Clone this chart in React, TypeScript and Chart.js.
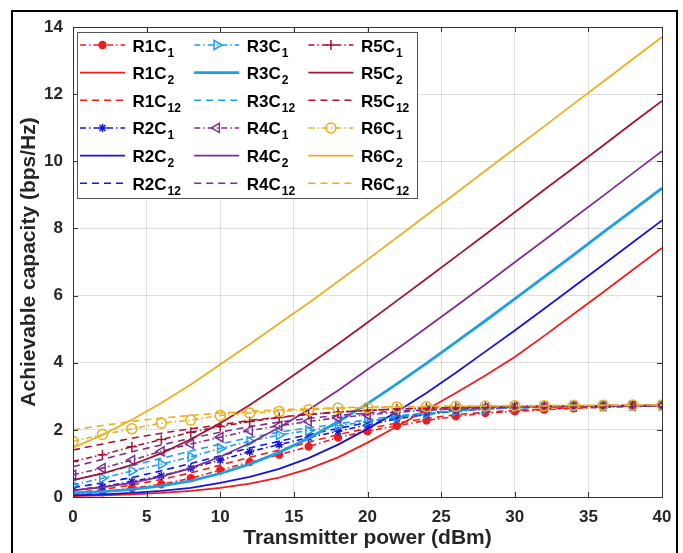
import React, { useEffect, useRef } from 'react';
import { Chart, registerables } from 'chart.js';

Chart.register(...registerables);

const FONT = "'Liberation Sans', Arial, Helvetica, sans-serif";

// ---------------- data ----------------
const powerDbm = [0, 2, 4, 6, 8, 10, 12, 14, 16, 18, 20, 22, 24, 26, 28, 30, 32, 34, 36, 38, 40];
const xTickValues = [0, 5, 10, 15, 20, 25, 30, 35, 40];
const yTickValues = [0, 2, 4, 6, 8, 10, 12, 14];

const r1c1 = [0.06, 0.14, 0.26, 0.38, 0.56, 0.8, 1.04, 1.26, 1.5, 1.77, 1.96, 2.12, 2.28, 2.4, 2.5, 2.55, 2.6, 2.64, 2.67, 2.7, 2.72];
const r1c2 = [0.03, 0.05, 0.08, 0.12, 0.18, 0.27, 0.4, 0.58, 0.84, 1.18, 1.62, 2.1, 2.6, 3.1, 3.62, 4.17, 4.8, 5.45, 6.1, 6.76, 7.42];
const r1c12 = [0.12, 0.22, 0.36, 0.52, 0.72, 0.95, 1.18, 1.4, 1.63, 1.86, 2.04, 2.2, 2.34, 2.45, 2.53, 2.58, 2.62, 2.66, 2.68, 2.7, 2.72];

const r2c1 = [0.2, 0.31, 0.46, 0.63, 0.86, 1.1, 1.35, 1.56, 1.77, 1.96, 2.15, 2.33, 2.46, 2.56, 2.62, 2.66, 2.68, 2.7, 2.71, 2.71, 2.72];
const r2c2 = [0.05, 0.08, 0.12, 0.18, 0.27, 0.42, 0.6, 0.84, 1.16, 1.56, 2.03, 2.54, 3.1, 3.7, 4.33, 4.96, 5.61, 6.26, 6.92, 7.58, 8.24];
const r2c12 = [0.28, 0.42, 0.58, 0.78, 1.0, 1.23, 1.46, 1.66, 1.86, 2.04, 2.22, 2.38, 2.5, 2.58, 2.63, 2.66, 2.68, 2.7, 2.71, 2.72, 2.72];

const r3c1 = [0.36, 0.56, 0.78, 0.98, 1.2, 1.45, 1.66, 1.85, 1.98, 2.12, 2.25, 2.38, 2.48, 2.56, 2.62, 2.66, 2.68, 2.7, 2.71, 2.72, 2.72];
const r3c2 = [0.12, 0.16, 0.23, 0.33, 0.48, 0.7, 0.98, 1.33, 1.75, 2.24, 2.78, 3.37, 3.98, 4.61, 5.25, 5.9, 6.56, 7.21, 7.88, 8.54, 9.2];
const r3c12 = [0.5, 0.7, 0.93, 1.15, 1.37, 1.58, 1.77, 1.93, 2.06, 2.18, 2.3, 2.42, 2.5, 2.57, 2.62, 2.66, 2.68, 2.7, 2.71, 2.72, 2.72];

const r4c1 = [0.66, 0.86, 1.1, 1.36, 1.58, 1.78, 1.98, 2.12, 2.25, 2.36, 2.45, 2.52, 2.58, 2.62, 2.65, 2.68, 2.69, 2.7, 2.71, 2.72, 2.72];
const r4c2 = [0.2, 0.29, 0.42, 0.61, 0.86, 1.2, 1.6, 2.07, 2.6, 3.17, 3.8, 4.41, 5.04, 5.68, 6.33, 6.99, 7.65, 8.31, 8.97, 9.64, 10.3];
const r4c12 = [0.9, 1.12, 1.35, 1.55, 1.75, 1.93, 2.1, 2.23, 2.34, 2.43, 2.5, 2.56, 2.6, 2.64, 2.66, 2.68, 2.7, 2.71, 2.72, 2.72, 2.73];

const r5c1 = [1.06, 1.26, 1.5, 1.71, 1.93, 2.1, 2.25, 2.37, 2.46, 2.53, 2.58, 2.62, 2.65, 2.67, 2.69, 2.7, 2.71, 2.72, 2.72, 2.73, 2.73];
const r5c2 = [0.5, 0.7, 0.96, 1.3, 1.72, 2.2, 2.74, 3.33, 3.94, 4.56, 5.2, 5.85, 6.5, 7.16, 7.82, 8.48, 9.15, 9.81, 10.47, 11.14, 11.8];
const r5c12 = [1.4, 1.58, 1.75, 1.9, 2.03, 2.15, 2.28, 2.38, 2.46, 2.53, 2.58, 2.62, 2.65, 2.67, 2.69, 2.7, 2.71, 2.72, 2.72, 2.73, 2.73];

const r6c1 = [1.66, 1.86, 2.03, 2.2, 2.29, 2.43, 2.5, 2.55, 2.6, 2.65, 2.66, 2.68, 2.69, 2.7, 2.71, 2.72, 2.72, 2.73, 2.73, 2.74, 2.74];
const r6c2 = [1.47, 1.85, 2.3, 2.8, 3.35, 3.95, 4.55, 5.17, 5.78, 6.42, 7.07, 7.73, 8.39, 9.05, 9.72, 10.38, 11.04, 11.71, 12.37, 13.04, 13.7];
const r6c12 = [2.0, 2.13, 2.25, 2.35, 2.43, 2.5, 2.55, 2.6, 2.63, 2.66, 2.68, 2.69, 2.7, 2.71, 2.71, 2.72, 2.72, 2.73, 2.73, 2.74, 2.74];

const seriesNames = [
  'R1C1', 'R1C2', 'R1C12',
  'R2C1', 'R2C2', 'R2C12',
  'R3C1', 'R3C2', 'R3C12',
  'R4C1', 'R4C2', 'R4C12',
  'R5C1', 'R5C2', 'R5C12',
  'R6C1', 'R6C2', 'R6C12',
];
const seriesValues = [
  r1c1, r1c2, r1c12,
  r2c1, r2c2, r2c12,
  r3c1, r3c2, r3c12,
  r4c1, r4c2, r4c12,
  r5c1, r5c2, r5c12,
  r6c1, r6c2, r6c12,
];

const xTitle = 'Transmitter power (dBm)';
const yTitle = 'Achievable capacity (bps/Hz)';

// ---------------- styles ----------------
const groupColors = ['#f01c1c', '#1414dc', '#1e9fe3', '#7e2f8e', '#a2142f', '#e9b020'];
const groupMarkers = [
  { style: 'circle', radius: 3.4, filled: true, rotation: 0 },
  { style: 'star', radius: 4.2, filled: false, rotation: 0 },
  { style: 'triangle', radius: 5.3, filled: false, rotation: 90 },
  { style: 'triangle', radius: 5.3, filled: false, rotation: -90 },
  { style: 'cross', radius: 5, filled: false, rotation: 0 },
  { style: 'circle', radius: 5, filled: false, rotation: 0 },
];
const DASH_DOT = [6, 3, 1.5, 3];
const DASHED = [7, 5];

function lineWidthFor(group: number, kind: number) {
  if (kind === 1) return group === 2 ? 2.8 : 1.8;
  return 1.6;
}

function drawMarker(ctx: CanvasRenderingContext2D, m: any, x: number, y: number, color: string) {
  const r = m.radius;
  ctx.save();
  ctx.setLineDash([]);
  ctx.strokeStyle = color;
  ctx.fillStyle = m.filled ? color : 'rgba(0,0,0,0)';
  ctx.lineWidth = 1.5;
  ctx.beginPath();
  if (m.style === 'circle') {
    ctx.arc(x, y, r, 0, Math.PI * 2);
    ctx.fill();
    ctx.stroke();
  } else if (m.style === 'triangle') {
    let rad = (m.rotation * Math.PI) / 180;
    ctx.moveTo(x + Math.sin(rad) * r, y - Math.cos(rad) * r);
    rad += (2 * Math.PI) / 3;
    ctx.lineTo(x + Math.sin(rad) * r, y - Math.cos(rad) * r);
    rad += (2 * Math.PI) / 3;
    ctx.lineTo(x + Math.sin(rad) * r, y - Math.cos(rad) * r);
    ctx.closePath();
    ctx.stroke();
  } else if (m.style === 'cross') {
    ctx.moveTo(x - r, y);
    ctx.lineTo(x + r, y);
    ctx.moveTo(x, y - r);
    ctx.lineTo(x, y + r);
    ctx.stroke();
  } else if (m.style === 'star') {
    const d = r * Math.SQRT1_2;
    ctx.moveTo(x - r, y);
    ctx.lineTo(x + r, y);
    ctx.moveTo(x, y - r);
    ctx.lineTo(x, y + r);
    ctx.moveTo(x - d, y - d);
    ctx.lineTo(x + d, y + d);
    ctx.moveTo(x - d, y + d);
    ctx.lineTo(x + d, y - d);
    ctx.stroke();
  }
  ctx.restore();
}

const decorPlugin = {
  id: 'matlabDecor',
  beforeDraw(chart: any) {
    const ctx = chart.ctx;
    ctx.save();
    ctx.fillStyle = '#ffffff';
    ctx.fillRect(0, 0, chart.width, chart.height);
    ctx.restore();
  },
  afterDatasetsDraw(chart: any) {
    const ctx: CanvasRenderingContext2D = chart.ctx;
    const { left, right, top, bottom } = chart.chartArea;
    const xs = chart.scales.x;
    const ys = chart.scales.y;
    ctx.save();
    // axes box
    ctx.strokeStyle = '#333333';
    ctx.lineWidth = 1;
    ctx.setLineDash([]);
    ctx.strokeRect(Math.round(left) + 0.5, Math.round(top) + 0.5, Math.round(right - left), Math.round(bottom - top));
    // inward ticks
    const tl = 5;
    ctx.beginPath();
    xTickValues.forEach((v) => {
      const px = Math.round(xs.getPixelForValue(v)) + 0.5;
      ctx.moveTo(px, bottom);
      ctx.lineTo(px, bottom - tl);
      ctx.moveTo(px, top);
      ctx.lineTo(px, top + tl);
    });
    yTickValues.forEach((v) => {
      const py = Math.round(ys.getPixelForValue(v)) + 0.5;
      ctx.moveTo(left, py);
      ctx.lineTo(left + tl, py);
      ctx.moveTo(right, py);
      ctx.lineTo(right - tl, py);
    });
    ctx.stroke();

    // legend
    const bx = 77, by = 32, bw = 340, bh = 166;
    ctx.fillStyle = '#ffffff';
    ctx.fillRect(bx, by, bw, bh);
    ctx.strokeStyle = '#555555';
    ctx.lineWidth = 1;
    ctx.strokeRect(bx + 0.5, by + 0.5, bw, bh);

    seriesNames.forEach((name, i) => {
      const group = Math.floor(i / 3);
      const kind = i % 3;
      const col = Math.floor(group / 2);
      const row = (group % 2) * 3 + kind;
      const x0 = 80 + col * 114.2;
      const y = 45 + row * 27.65;
      const color = groupColors[group];
      ctx.save();
      ctx.strokeStyle = color;
      ctx.lineWidth = lineWidthFor(group, kind);
      ctx.setLineDash(kind === 0 ? DASH_DOT : kind === 2 ? DASHED : []);
      ctx.beginPath();
      ctx.moveTo(x0, y);
      ctx.lineTo(x0 + 45, y);
      ctx.stroke();
      ctx.restore();
      if (kind === 0) drawMarker(ctx, groupMarkers[group], x0 + 22.5, y, color);

      const m = name.match(/^(R\dC)(\d+)$/);
      const base = m ? m[1] : name;
      const sub = m ? m[2] : '';
      const tx = x0 + 52.5;
      ctx.fillStyle = '#000000';
      ctx.textAlign = 'left';
      ctx.textBaseline = 'alphabetic';
      ctx.font = `bold 17px ${FONT}`;
      ctx.fillText(base, tx, y + 6.5);
      const w = ctx.measureText(base).width;
      ctx.font = `bold 12px ${FONT}`;
      ctx.fillText(sub, tx + w + 1, y + 11.5);
    });
    ctx.restore();
  },
  afterDraw(chart: any) {
    const ctx: CanvasRenderingContext2D = chart.ctx;
    ctx.save();
    ctx.strokeStyle = '#000000';
    ctx.lineWidth = 2;
    ctx.beginPath();
    ctx.moveTo(12, chart.height);
    ctx.lineTo(12, 11);
    ctx.lineTo(677, 11);
    ctx.lineTo(677, chart.height);
    ctx.stroke();
    ctx.restore();
  },
};

export default function App() {
  const canvasRef = useRef<HTMLCanvasElement | null>(null);

  useEffect(() => {
    document.body.style.margin = '0';
    const canvas = canvasRef.current;
    if (!canvas) return;

    const datasets = seriesNames.map((name, i) => {
      const group = Math.floor(i / 3);
      const kind = i % 3;
      const color = groupColors[group];
      const mk = groupMarkers[group];
      return {
        label: name,
        data: powerDbm.map((p, k) => ({ x: p, y: seriesValues[i][k] })),
        borderColor: color,
        backgroundColor: color,
        borderWidth: lineWidthFor(group, kind),
        borderDash: kind === 0 ? DASH_DOT : kind === 2 ? DASHED : [],
        pointRadius: kind === 0 ? mk.radius : 0,
        pointHoverRadius: kind === 0 ? mk.radius : 0,
        pointStyle: mk.style,
        pointRotation: mk.rotation,
        pointBorderColor: color,
        pointBackgroundColor: mk.filled ? color : 'rgba(0,0,0,0)',
        pointBorderWidth: 1.5,
        tension: 0,
        fill: false,
        order: seriesNames.length - 1 - i,
      };
    });

    const tickFont = { family: FONT, size: 17, weight: 'bold' as const };
    const titleFont = { family: FONT, size: 21, weight: 'bold' as const };

    const chart = new Chart(canvas, {
      type: 'line',
      data: { datasets: datasets as any },
      options: {
        animation: false,
        responsive: false,
        devicePixelRatio: 1,
        events: [],
        layout: { padding: { left: 14, top: 27, right: 21, bottom: 0 } },
        plugins: {
          legend: { display: false },
          tooltip: { enabled: false },
        },
        scales: {
          x: {
            type: 'linear',
            min: 0,
            max: 40,
            afterBuildTicks: (axis: any) => {
              axis.ticks = xTickValues.map((v) => ({ value: v }));
            },
            afterFit: (scale: any) => {
              scale.height = 56;
            },
            grid: { color: 'rgba(38,38,38,0.15)', lineWidth: 1, drawTicks: false },
            border: { display: false },
            ticks: {
              padding: 10,
              color: '#262626',
              font: tickFont,
              maxRotation: 0,
              autoSkip: false,
              callback: (v: any) => String(v),
            },
            title: {
              display: true,
              text: xTitle,
              color: '#262626',
              font: titleFont,
              padding: { top: 0, bottom: 2 },
            },
          },
          y: {
            type: 'linear',
            min: 0,
            max: 14,
            afterBuildTicks: (axis: any) => {
              axis.ticks = yTickValues.map((v) => ({ value: v }));
            },
            afterFit: (scale: any) => {
              scale.width = 59;
            },
            grid: { color: 'rgba(38,38,38,0.15)', lineWidth: 1, drawTicks: false },
            border: { display: false },
            ticks: {
              padding: 10,
              color: '#262626',
              font: tickFont,
              autoSkip: false,
              callback: (v: any) => String(v),
            },
            title: {
              display: true,
              text: yTitle,
              color: '#262626',
              font: titleFont,
              padding: { top: 3, bottom: 0 },
            },
          },
        },
      },
      plugins: [decorPlugin as any],
    });

    return () => {
      chart.destroy();
    };
  }, []);

  return (
    <div style={{ width: 683, height: 553, overflow: 'hidden' }}>
      <canvas ref={canvasRef} width={683} height={553} style={{ display: 'block', width: 683, height: 553 }} />
    </div>
  );
}
